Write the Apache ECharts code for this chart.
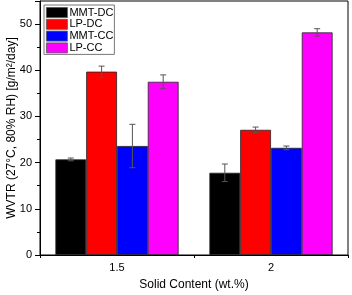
<!DOCTYPE html>
<html>
<head>
<meta charset="utf-8">
<script src="https://cdn.jsdelivr.net/npm/echarts@6/dist/echarts.min.js"></script>
<style>
  html, body { margin: 0; padding: 0; background: #fff; }
  #chart { width: 352px; height: 295px; }
</style>
</head>
<body>
<div id="chart"></div>
<script>
const categories = ['1.5', '2'];
const seriesNames = ['MMT-DC', 'LP-DC', 'MMT-CC', 'LP-CC'];
const colors = ['#000000', '#ff0000', '#0000ff', '#ff00ff'];

// bar heights
const mmtDC = [20.7, 17.8];
const lpDC = [39.7, 27.1];
const mmtCC = [23.6, 23.2];
const lpCC = [37.5, 48.2];

// error (+/-)
const mmtDCErr = [0.3, 1.9];
const lpDCErr = [1.2, 0.6];
const mmtCCErr = [4.7, 0.4];
const lpCCErr = [1.5, 0.8];

const values = [mmtDC, lpDC, mmtCC, lpCC];
const errors = [mmtDCErr, lpDCErr, mmtCCErr, lpCCErr];

const font = 'Liberation Sans, Arial, sans-serif';
const myChart = echarts.init(document.getElementById('chart'), null, { renderer: 'canvas' });

const barSeries = seriesNames.map((name, i) => ({
  name: name,
  type: 'bar',
  data: values[i],
  barGap: '0%',
  barCategoryGap: '20%',
  itemStyle: { color: colors[i], borderColor: '#222', borderWidth: 0.8 },
  z: 2
}));

const errSeries = seriesNames.map((name, i) => ({
  type: 'custom',
  name: name + '-err',
  data: values[i].map((v, k) => [k, v - errors[i][k], v + errors[i][k]]),
  z: 5,
  renderItem: function (params, api) {
    const band = api.size([1, 0])[0];
    const bw = band * 0.2;
    const off = (i - 1.5) * bw;
    const lo = api.coord([api.value(0), api.value(1)]);
    const hi = api.coord([api.value(0), api.value(2)]);
    const x = lo[0] + off;
    const cap = 3;
    const st = { stroke: '#555', lineWidth: 1 };
    return {
      type: 'group',
      children: [
        { type: 'line', shape: { x1: x, y1: lo[1], x2: x, y2: hi[1] }, style: st },
        { type: 'line', shape: { x1: x - cap, y1: hi[1], x2: x + cap, y2: hi[1] }, style: st },
        { type: 'line', shape: { x1: x - cap, y1: lo[1], x2: x + cap, y2: lo[1] }, style: st }
      ]
    };
  }
}));

const option = {
  animation: false,
  textStyle: { fontFamily: font },
  grid: {
    left: 40, right: 4, top: 1, bottom: 40,
    containLabel: false,
    outerBoundsMode: 'none',
    show: true, borderColor: '#000', borderWidth: 1
  },
  legend: {
    data: seriesNames,
    orient: 'vertical',
    left: 44,
    top: 5,
    itemWidth: 21,
    itemHeight: 10,
    itemGap: 0.8,
    padding: [2, 1, 1, 2],
    icon: 'rect',
    backgroundColor: '#fff',
    borderColor: '#777',
    borderWidth: 1,
    itemStyle: { borderColor: '#555', borderWidth: 0.8 },
    textStyle: { fontSize: 11, lineHeight: 10, color: '#000', fontFamily: font, padding: [0, 0, 0, -3] }
  },
  xAxis: [
    {
      type: 'category',
      data: categories,
      name: 'Solid Content (wt.%)',
      nameLocation: 'middle',
      nameGap: 24,
      nameTextStyle: { fontSize: 12, color: '#000' },
      axisLine: { lineStyle: { color: '#000' } },
      axisTick: { alignWithLabel: true, length: 5, lineStyle: { color: '#000' } },
      axisLabel: { fontSize: 11, color: '#000', margin: 7 }
    },
    {
      type: 'category',
      data: categories,
      position: 'bottom',
      axisLine: { show: false },
      axisTick: { show: true, length: 3, lineStyle: { color: '#000' } },
      axisLabel: { show: false }
    }
  ],
  yAxis: {
    type: 'value',
    min: 0,
    max: 55,
    interval: 10,
    name: 'WVTR (27°C, 80% RH) [g/m²/day]',
    nameLocation: 'middle',
    nameGap: 22,
    nameMoveOverlap: false,
    nameTextStyle: { fontSize: 12, color: '#000' },
    axisLine: { show: true, lineStyle: { color: '#000' } },
    axisTick: { show: true, length: 5, lineStyle: { color: '#000' } },
    minorTick: { show: true, splitNumber: 2, length: 3, lineStyle: { color: '#000' } },
    splitLine: { show: false },
    axisLabel: { fontSize: 11, color: '#000', margin: 8, showMaxLabel: false }
  },
  series: barSeries.concat(errSeries)
};

if (option && typeof option === 'object') {
  myChart.setOption(option);
}
window.addEventListener('resize', myChart.resize);
</script>
</body>
</html>
